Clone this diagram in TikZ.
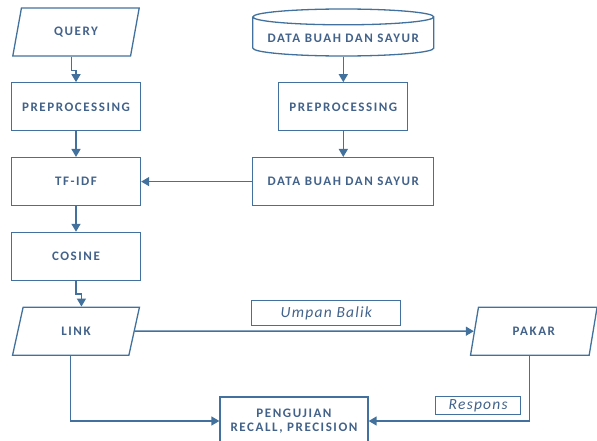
\documentclass[tikz,border=0pt]{standalone}
\usepackage{fontspec}
\setmainfont{Carlito}
\newfontfamily\boxfont[LetterSpace=12]{Carlito}
\newfontfamily\notefont[LetterSpace=8]{Carlito}
\usetikzlibrary{arrows.meta,positioning,shapes.geometric}
\definecolor{flowblue}{RGB}{65,113,156}
\definecolor{textblue}{RGB}{66,98,138}
\tikzset{
  procbox/.style={rectangle,draw=flowblue,line width=1.3bp,
    minimum width=129bp,minimum height=48bp,inner sep=2bp,
    font=\boxfont\bfseries\fontsize{13bp}{14.5bp}\selectfont,
    text=textblue,align=center},
  iobox/.style={trapezium,trapezium left angle=75,trapezium right angle=105,
    trapezium stretches=true,draw=flowblue,line width=1.3bp,
    minimum width=127bp,minimum height=48bp,inner sep=2bp,
    font=\boxfont\bfseries\fontsize{13bp}{14.5bp}\selectfont,text=textblue},
  dbshape/.style={cylinder,shape border rotate=90,aspect=0.1,
    draw=flowblue,line width=1.3bp,minimum width=181bp,minimum height=47bp,
    font=\boxfont\bfseries\fontsize{13bp}{14.5bp}\selectfont,text=textblue},
  notebox/.style={draw=flowblue,line width=1.1bp,inner sep=0pt,
    font=\notefont\itshape\fontsize{15.5bp}{17bp}\selectfont,text=textblue},
  flow/.style={-{Triangle[length=8bp,width=9bp]},line width=1.5bp,draw=flowblue}
}
\begin{document}
\begin{tikzpicture}[x=1bp,y=-1bp,node distance=25.5bp]
  \useasboundingbox (0,0) rectangle (597,441);
  % kolom kiri
  \node[iobox] (query) at (76,32) {QUERY};
  \node[procbox,below=of query] (prepq) {PREPROCESSING};
  \node[procbox,below=of prepq] (tfidf) {TF-IDF};
  \node[procbox,below=of tfidf] (cosine) {COSINE};
  \node[iobox,below=of cosine] (link) {LINK};
  % kolom kanan
  \node[procbox,minimum width=181bp,right=111bp of tfidf] (datab) {DATA BUAH DAN SAYUR};
  \node[procbox,above=of datab] (prepd) {PREPROCESSING};
  \node[dbshape,above=of prepd] (dataa) {DATA BUAH DAN SAYUR};
  % evaluasi
  \node[iobox,right=339bp of link] (pakar) {PAKAR};
  \node[procbox,minimum width=148bp] (uji) at (294,421) {PENGUJIAN\\RECALL, PRECISION};
  % alur
  \draw[flow] (query.bottom side) -- ++(0,14) -| (prepq.north);
  \draw[flow] (prepq) -- (tfidf);
  \draw[flow] (tfidf) -- (cosine);
  \draw[flow] (cosine.south) -- ++(0,13) -| (link.top side);
  \draw[flow] (dataa.south) -- (prepd.north);
  \draw[flow] (prepd) -- (datab);
  \draw[flow] (datab) -- (tfidf);
  \draw[flow] (link.right side) -- node[notebox,above=5bp,pos=0.565,
    minimum width=149bp,minimum height=25bp] (umpan) {Umpan Balik} (pakar.left side);
  \draw[flow] (link.bottom side) |- (uji.west);
  \draw[flow] (pakar.bottom side) |- node[notebox,above=6bp,pos=0.66,
    minimum width=85bp,minimum height=18bp] (respons) {Respons} (uji.east);
\end{tikzpicture}
\end{document}
